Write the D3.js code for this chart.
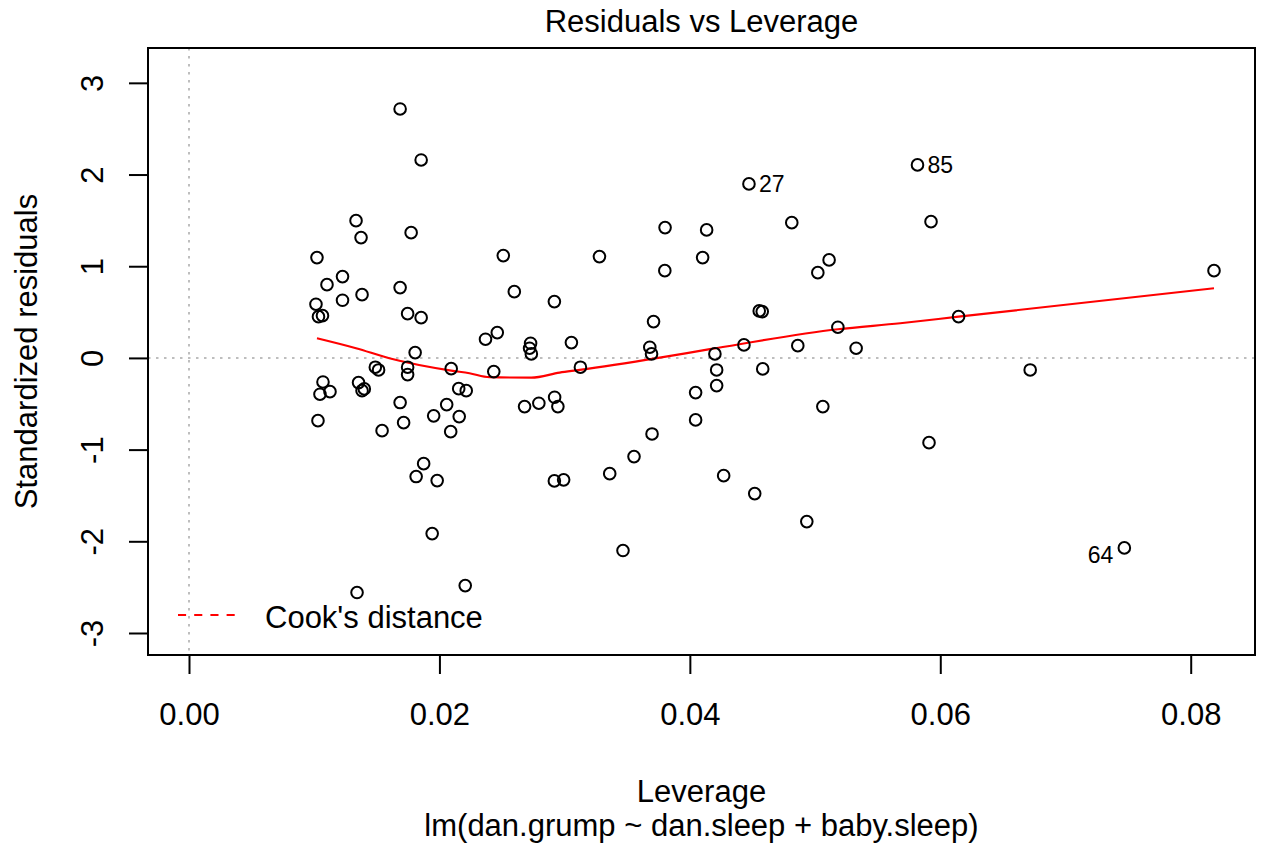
<!DOCTYPE html>
<html lang="en">
<meta charset='utf-8'>
<style>
  body{ margin:0; background:#fff }
  text{ font-family:'Liberation Sans', Arial, sans-serif; font-size:31px; fill:#000 }
  .id{ font-size:23px }
  .box{ fill:none; stroke:#000; stroke-width:2px }
  .tick line{ stroke:#000; stroke-width:2px }
  .ref{ stroke:#bebebe; stroke-width:2px; stroke-dasharray:2.5,5.5 }
  .pt{ fill:none; stroke:#000; stroke-width:2px }
  .smooth{ fill:none; stroke:#ff0000; stroke-width:2.2px }
</style>
<body>
<script src='https://cdn.jsdelivr.net/npm/d3@7/dist/d3.min.js'></script>
<script>

  // leverage (hat values) and standardized residuals
  var leverage = [
    0.01686, 0.01854, 0.01334, 0.01374, 0.01774, 0.01022, 0.01226, 0.01102, 0.01382, 0.01226,
    0.01686, 0.01014, 0.01034, 0.01066, 0.01746, 0.01854, 0.02368, 0.01806, 0.01488, 0.01514,
    0.01746, 0.01746, 0.02094, 0.01070, 0.01046, 0.01126, 0.01354, 0.01382, 0.01400, 0.01686,
    0.02058, 0.02154, 0.02214, 0.01030, 0.01954, 0.02158, 0.01714, 0.01542, 0.02090, 0.01874,
    0.01814, 0.01982, 0.01942, 0.01342, 0.02206, 0.03802, 0.03800, 0.02510, 0.03278, 0.02598,
    0.02918, 0.03710, 0.02462, 0.02728, 0.02720, 0.02734, 0.03054, 0.03680, 0.03694, 0.02434,
    0.02680, 0.02794, 0.02920, 0.02946, 0.03126, 0.03698, 0.03554, 0.03360, 0.02918, 0.02992,
    0.03466, 0.04472, 0.05818, 0.04134, 0.04102, 0.04814, 0.05926, 0.05112, 0.05022, 0.04554,
    0.04578, 0.05182, 0.04432, 0.04862, 0.05328, 0.04200, 0.06146, 0.04214, 0.04214, 0.04582,
    0.04046, 0.04046, 0.05062, 0.05910, 0.04270, 0.04518, 0.04934, 0.08186, 0.06718, 0.07470
  ]
  var stdResid = [
    2.715, 2.159, 1.497, 1.312, 1.366, 1.094, 0.887, 0.799, 0.690, 0.629,
    0.767, 0.586, 0.450, 0.461, 0.483, 0.439, 0.204, 0.058, -0.101, -0.131,
    -0.101, -0.182, -0.117, -0.262, -0.396, -0.368, -0.269, -0.357, -0.338, -0.487,
    -0.509, -0.335, -0.357, -0.684, -0.632, -0.640, -0.706, -0.793, -0.804, -1.153,
    -1.294, -1.338, -1.916, -2.559, -2.483, 1.421, 0.952, 1.116, 1.105, 0.723,
    0.614, 0.396, 0.276, 0.160, 0.106, 0.044, 0.167, 0.117, 0.044, -0.149,
    -0.531, -0.494, -0.429, -0.531, -0.101, -0.829, -1.076, -1.262, -1.341, -1.330,
    -2.101, 1.898, 2.105, 1.396, 1.094, 1.475, 1.486, 1.069, 0.930, 0.513,
    0.505, 0.335, 0.142, 0.134, 0.106, 0.044, 0.450, -0.131, -0.302, -0.120,
    -0.378, -0.676, -0.531, -0.924, -1.284, -1.480, -1.785, 0.952, -0.131, -2.072
  ]

  // labelled observations: position in the arrays above, and their id
  var idIndex = [71, 72, 99]
  var idText  = ['27', '85', '64']

  // smoother (red line)
  var smoothLev = [0.01022, 0.01334, 0.0160, 0.02094, 0.0224, 0.0240, 0.02734, 0.0296, 0.0312,
                   0.0376, 0.0416, 0.05182, 0.0568, 0.06146, 0.08186]
  var smoothRes = [0.215, 0.106, -0.003, -0.138, -0.167, -0.210, -0.215, -0.160, -0.131,
                   0.003, 0.095, 0.313, 0.378, 0.450, 0.760]

  var xTicks = [0, 0.02, 0.04, 0.06, 0.08]
  var yTicks = [-3, -2, -1, 0, 1, 2, 3]

  var W = 1269, H = 851
  var pLeft = 148, pRight = 1255, pTop = 48, pBottom = 655

  var svg = d3.select('body').append('svg').attr('width', W).attr('height', H)

  var xmax = d3.max(leverage)
  var pad = xmax * 0.04
  var x = d3.scaleLinear().domain([-pad, xmax + pad]).range([pLeft, pRight])
  var y = d3.scaleLinear().domain([-3.24, 3.38]).range([pBottom, pTop])

  // dotted reference lines
  svg.append('line').attr('class', 'ref')
    .attr('x1', x(0)).attr('x2', x(0)).attr('y1', pTop).attr('y2', pBottom)
  svg.append('line').attr('class', 'ref')
    .attr('x1', pLeft).attr('x2', pRight).attr('y1', y(0)).attr('y2', y(0))

  // axes
  var gx = svg.append('g').attr('transform', 'translate(0,' + pBottom + ')')
    .call(d3.axisBottom(x).tickValues(xTicks).tickSize(19).tickPadding(0).tickFormat(d3.format('.2f')))
  gx.select('.domain').remove()
  gx.selectAll('.tick text').attr('y', 70).attr('dy', null).style('font-size', '31px')

  var gy = svg.append('g').attr('transform', 'translate(' + pLeft + ',0)')
    .call(d3.axisLeft(y).tickValues(yTicks).tickSize(19).tickFormat(d => String(d)))
  gy.select('.domain').remove()
  gy.selectAll('.tick text')
    .attr('x', null).attr('dy', null)
    .attr('transform', 'translate(-45,0) rotate(-90)')
    .attr('text-anchor', 'middle')
    .style('font-size', '31px')

  svg.append('rect').attr('class', 'box')
    .attr('x', pLeft).attr('y', pTop).attr('width', pRight - pLeft).attr('height', pBottom - pTop)

  // smoother
  var line = d3.line().x(d => x(d[0])).y(d => y(d[1])).curve(d3.curveMonotoneX)
  svg.append('path').attr('class', 'smooth')
    .attr('d', line(d3.zip(smoothLev, smoothRes)))

  // points
  svg.selectAll('.pt').data(d3.zip(leverage, stdResid)).enter()
    .append('circle').attr('class', 'pt')
    .attr('cx', d => x(d[0])).attr('cy', d => y(d[1])).attr('r', 5.8)

  // id labels
  var mid = (x.domain()[0] + x.domain()[1]) / 2
  idIndex.forEach(function(k, i){
    var onLeft = leverage[k] > mid && stdResid[k] < 0
    svg.append('text').attr('class', 'id')
      .attr('x', x(leverage[k]) + (onLeft ? -11 : 10))
      .attr('y', y(stdResid[k]) + (onLeft ? 15 : 8.5))
      .attr('text-anchor', onLeft ? 'end' : 'start')
      .text(idText[i])
  })

  // legend
  svg.append('line').attr('x1', 178).attr('x2', 235).attr('y1', 615).attr('y2', 615)
    .style('stroke', '#ff0000').style('stroke-width', '2px').style('stroke-dasharray', '8.1,8.1')
  svg.append('text').attr('x', 265).attr('y', 628).text("Cook's distance")

  // titles
  svg.append('text').attr('x', (pLeft + pRight) / 2).attr('y', 31.5)
    .attr('text-anchor', 'middle').text('Residuals vs Leverage')
  svg.append('text').attr('x', (pLeft + pRight) / 2).attr('y', 801.5)
    .attr('text-anchor', 'middle').text('Leverage')
  svg.append('text').attr('x', (pLeft + pRight) / 2).attr('y', 836)
    .attr('text-anchor', 'middle').text('lm(dan.grump ~ dan.sleep + baby.sleep)')
  svg.append('text').attr('transform', 'translate(37,' + (pTop + pBottom) / 2 + ') rotate(-90)')
    .attr('text-anchor', 'middle').text('Standardized residuals')
</script>
</body>
</html>
